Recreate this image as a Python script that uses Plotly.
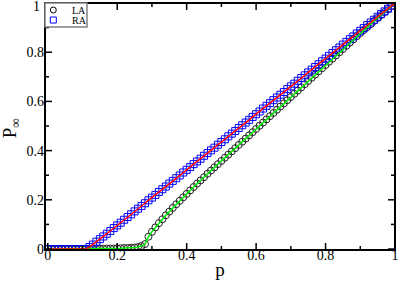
import plotly.graph_objects as go

p = [0.00, 0.01, 0.02, 0.03, 0.04, 0.05, 0.06, 0.07, 0.08, 0.09,
     0.10, 0.11, 0.12, 0.13, 0.14, 0.15, 0.16, 0.17, 0.18, 0.19,
     0.20, 0.21, 0.22, 0.23, 0.24, 0.25, 0.26, 0.27, 0.28, 0.29,
     0.30, 0.31, 0.32, 0.33, 0.34, 0.35, 0.36, 0.37, 0.38, 0.39,
     0.40, 0.41, 0.42, 0.43, 0.44, 0.45, 0.46, 0.47, 0.48, 0.49,
     0.50, 0.51, 0.52, 0.53, 0.54, 0.55, 0.56, 0.57, 0.58, 0.59,
     0.60, 0.61, 0.62, 0.63, 0.64, 0.65, 0.66, 0.67, 0.68, 0.69,
     0.70, 0.71, 0.72, 0.73, 0.74, 0.75, 0.76, 0.77, 0.78, 0.79,
     0.80, 0.81, 0.82, 0.83, 0.84, 0.85, 0.86, 0.87, 0.88, 0.89,
     0.90, 0.91, 0.92, 0.93, 0.94, 0.95, 0.96, 0.97, 0.98, 0.99, 1.00]

la = [0, 0, 0, 0, 0, 0, 0, 0, 0, 0,
      0, 0, 0, 0, 0, 0.001, 0.001, 0.002, 0.002, 0.002,
      0.003, 0.003, 0.004, 0.004, 0.005, 0.006, 0.008, 0.012, 0.020, 0.050,
      0.070, 0.088, 0.105, 0.121, 0.137, 0.152, 0.167, 0.182, 0.196, 0.210,
      0.224, 0.238, 0.252, 0.266, 0.279, 0.292, 0.306, 0.319, 0.332, 0.345,
      0.358, 0.371, 0.384, 0.397, 0.410, 0.423, 0.436, 0.449, 0.462, 0.475,
      0.488, 0.501, 0.514, 0.527, 0.540, 0.553, 0.566, 0.579, 0.592, 0.605,
      0.618, 0.631, 0.644, 0.657, 0.670, 0.683, 0.696, 0.709, 0.722, 0.735,
      0.748, 0.761, 0.774, 0.787, 0.800, 0.813, 0.826, 0.839, 0.852, 0.865,
      0.878, 0.890, 0.902, 0.914, 0.927, 0.939, 0.951, 0.963, 0.976, 0.988, 1.000]

ra = [0, 0, 0, 0, 0, 0, 0, 0, 0, 0,
      0, 0, 0.008, 0.018, 0.030, 0.040, 0.051, 0.062, 0.073, 0.085,
      0.096, 0.107, 0.119, 0.130, 0.141, 0.153, 0.164, 0.175, 0.186, 0.198,
      0.209, 0.220, 0.232, 0.243, 0.254, 0.266, 0.277, 0.288, 0.299, 0.311,
      0.322, 0.333, 0.345, 0.356, 0.367, 0.379, 0.390, 0.401, 0.412, 0.424,
      0.435, 0.446, 0.458, 0.469, 0.480, 0.492, 0.503, 0.514, 0.525, 0.537,
      0.548, 0.559, 0.571, 0.582, 0.593, 0.605, 0.616, 0.627, 0.638, 0.650,
      0.661, 0.672, 0.684, 0.695, 0.706, 0.718, 0.729, 0.740, 0.751, 0.763,
      0.774, 0.785, 0.797, 0.808, 0.819, 0.831, 0.842, 0.853, 0.864, 0.876,
      0.887, 0.898, 0.910, 0.921, 0.932, 0.944, 0.955, 0.966, 0.977, 0.989, 1.000]

major_ticks = [0, 0.2, 0.4, 0.6, 0.8, 1]
major_text = ["0", "0.2", "0.4", "0.6", "0.8", "1"]
minor_ticks = [0.1, 0.3, 0.5, 0.7, 0.9]

FONT = "Liberation Serif"

fig = go.Figure()
fig.add_trace(go.Scatter(x=p, y=la, mode="markers", name="LA",
                         marker=dict(symbol="circle-open", size=7, color="#222222",
                                     line=dict(width=1, color="#222222")),
                         showlegend=False))
fig.add_trace(go.Scatter(x=p, y=ra, mode="markers", name="RA",
                         marker=dict(symbol="square-open", size=7, color="#0000ff",
                                     line=dict(width=1, color="#0000ff")),
                         showlegend=False))
fig.add_trace(go.Scatter(x=p, y=la, mode="lines", line=dict(color="#00ee00", width=1.5),
                         showlegend=False))
fig.add_trace(go.Scatter(x=p, y=ra, mode="lines", line=dict(color="#ff0000", width=1.5),
                         showlegend=False))

axis_common = dict(
    automargin=False, showgrid=False, zeroline=False, showline=False, ticks="",
    tickfont=dict(family=FONT, size=14, color="black"),
)

fig.update_xaxes(range=[-0.008, 1.0], tickmode="array", tickvals=major_ticks, ticktext=major_text,
                 ticklabelstandoff=-5,
                 title=dict(text="p", font=dict(family=FONT, size=19, color="black"), standoff=0),
                 **axis_common)
fig.update_yaxes(range=[-0.004, 1.0], tickmode="array", tickvals=major_ticks[:-1],
                 ticktext=major_text[:-1], **axis_common)

# y-axis top label and title
fig.add_annotation(xref="paper", yref="y", x=0, y=major_ticks[-1], text=major_text[-1],
                   showarrow=False, xanchor="right", yanchor="middle", xshift=-3, yshift=-3,
                   font=dict(family=FONT, size=14, color="black"))
fig.add_annotation(xref="paper", yref="paper", x=-0.097, y=0.493, text="P<sub>∞</sub>",
                   textangle=-90, showarrow=False, xanchor="center", yanchor="middle",
                   font=dict(family=FONT, size=19, color="black"))

# frame
fig.add_shape(type="rect", xref="paper", yref="paper", x0=0, x1=1, y0=0, y1=1,
              line=dict(color="black", width=2), layer="above")

# ticks on all four sides (inside), placed on the axis scales
for vals, ln in ((major_ticks, 7), (minor_ticks, 4)):
    for v in vals:
        fig.add_shape(type="line", xref="x", x0=v, x1=v, yref="paper", ysizemode="pixel",
                      yanchor=0, y0=0, y1=ln, line=dict(color="black", width=1.5), layer="above")
        fig.add_shape(type="line", xref="x", x0=v, x1=v, yref="paper", ysizemode="pixel",
                      yanchor=1, y0=0, y1=-ln, line=dict(color="black", width=1.5), layer="above")
        fig.add_shape(type="line", yref="y", y0=v, y1=v, xref="paper", xsizemode="pixel",
                      xanchor=0, x0=0, x1=ln, line=dict(color="black", width=1.5), layer="above")
        fig.add_shape(type="line", yref="y", y0=v, y1=v, xref="paper", xsizemode="pixel",
                      xanchor=1, x0=0, x1=-ln, line=dict(color="black", width=1.5), layer="above")

# compact legend box like the original (paper coordinates)
fig.add_shape(type="rect", xref="paper", yref="paper", x0=0, x1=0.12, y0=0.9026, y1=1.0,
              line=dict(color="#808080", width=1.5), fillcolor="white", layer="above")
fig.add_shape(type="circle", xref="paper", yref="paper",
              x0=0.0152, x1=0.0323, y0=0.9594, y1=0.9838,
              line=dict(color="black", width=1), layer="above")
fig.add_shape(type="rect", xref="paper", yref="paper",
              x0=0.0152, x1=0.0323, y0=0.9188, y1=0.9432,
              line=dict(color="#0000ff", width=1), layer="above")
fig.add_annotation(xref="paper", yref="paper", x=0.0714, y=0.9716, text="LA", showarrow=False,
                   xanchor="left", yanchor="middle", font=dict(family=FONT, size=10, color="black"))
fig.add_annotation(xref="paper", yref="paper", x=0.0714, y=0.931, text="RA", showarrow=False,
                   xanchor="left", yanchor="middle", font=dict(family=FONT, size=10, color="black"))

fig.update_layout(
    template="none",
    width=399, height=281,
    margin=dict(l=45, r=4, t=3, b=31),
    plot_bgcolor="white", paper_bgcolor="white",
    showlegend=False,
)

fig.write_html("out.html", config={"displayModeBar": False},
               post_script="document.body.style.margin='0';document.body.style.padding='0';"
                           "document.body.style.overflow='hidden';")
